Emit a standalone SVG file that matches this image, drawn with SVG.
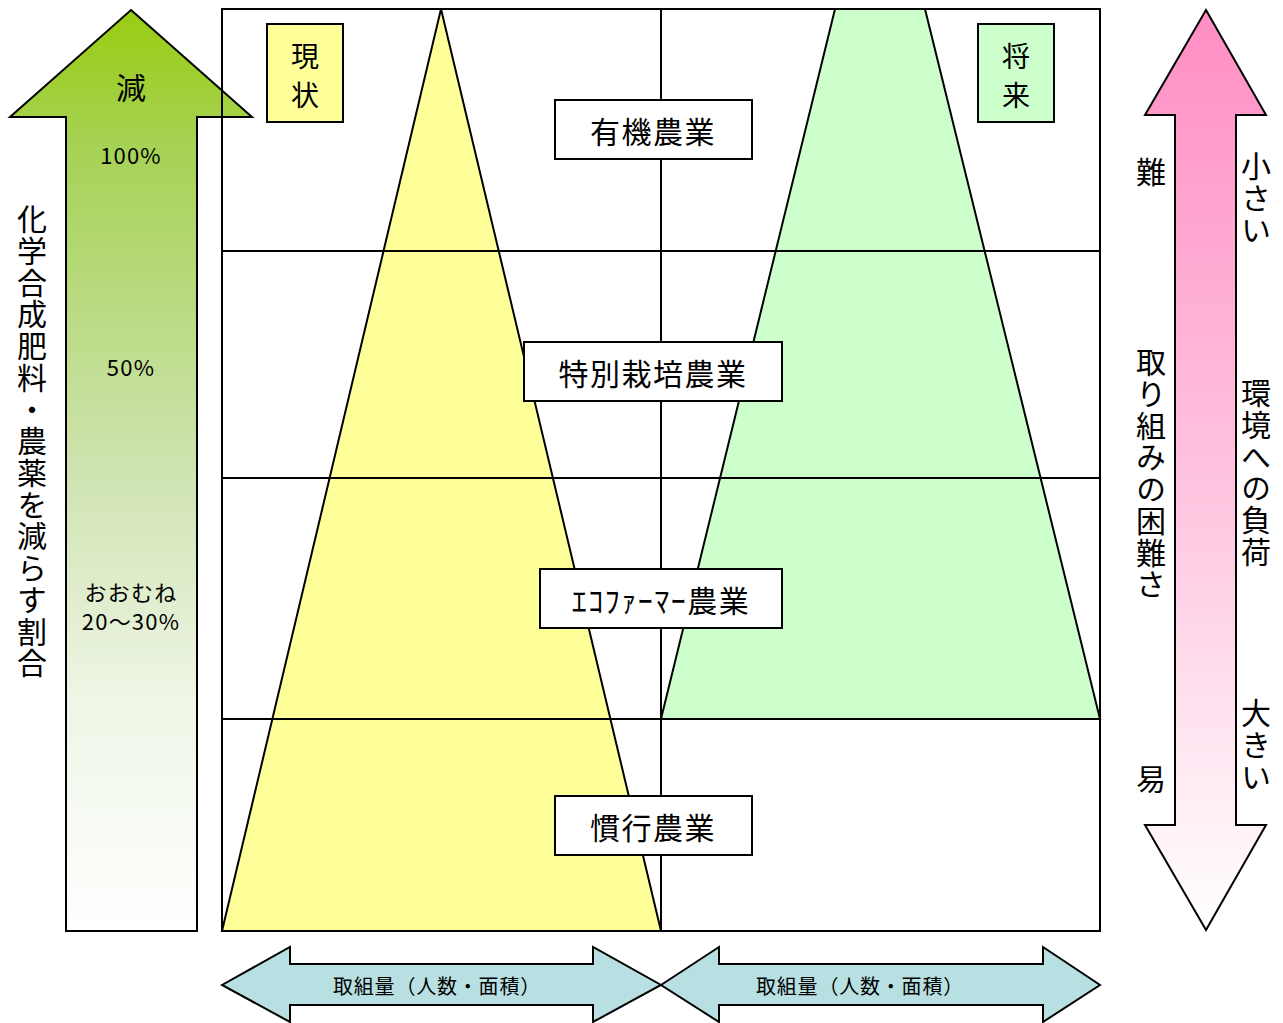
<svg xmlns="http://www.w3.org/2000/svg" width="1283" height="1023" viewBox="0 0 1283 1023">
<style>
text{font-family:"Noto Sans CJK JP","Noto Sans",sans-serif;fill:#000;}
.ln{stroke:#000;stroke-width:2;fill:none;}
.box{fill:#fff;stroke:#000;stroke-width:2;}
.lbl{font-size:30px;letter-spacing:1.5px;text-anchor:middle;dominant-baseline:central;}
.ch{font-size:30px;text-anchor:middle;dominant-baseline:central;}
.sm{font-size:28px;text-anchor:middle;dominant-baseline:central;}
.v{writing-mode:vertical-rl;font-size:30px;letter-spacing:1.7px;}
.pct{font-size:22px;letter-spacing:1.2px;text-anchor:middle;dominant-baseline:central;}
.bt{font-size:20px;letter-spacing:0.8px;text-anchor:middle;dominant-baseline:central;}
</style>
<defs>
<linearGradient id="gG" x1="0" y1="0" x2="0" y2="1">
<stop offset="0" stop-color="#99cc11"/>
<stop offset="0.15" stop-color="#a6d255"/>
<stop offset="0.5" stop-color="#cfe3b0"/>
<stop offset="0.75" stop-color="#eef6e6"/>
<stop offset="1" stop-color="#ffffff"/>
</linearGradient>
<linearGradient id="gP" x1="0" y1="0" x2="0" y2="1">
<stop offset="0" stop-color="#ff8ec4"/>
<stop offset="0.5" stop-color="#ffc2de"/>
<stop offset="1" stop-color="#ffffff"/>
</linearGradient>
</defs>

<g id="left-arrow">
<polygon points="131,10 252,117 197,117 197,931 66,931 66,117 10,117" fill="url(#gG)" stroke="#000" stroke-width="2"/>
<text x="131" y="86" class="ch">減</text>
<text x="131" y="154" class="pct">100%</text>
<text x="131" y="366" class="pct">50%</text>
<text x="131" y="591" class="pct">おおむね</text>
<text x="131" y="620" class="pct">20～30%</text>
</g>
<text id="left-label" x="32" y="204" class="v">化学合成肥料・農薬を減らす割合</text>

<g id="chart">
<polygon points="441,9 661,931 222,931" fill="#ffff99"/>
<polygon points="835,9 925,9 1100,719 661,719" fill="#ccffcc"/>
<rect x="222" y="9" width="878" height="922" class="ln"/>
<line x1="661" y1="9" x2="661" y2="931" class="ln"/>
<line x1="222" y1="251" x2="1100" y2="251" class="ln"/>
<line x1="222" y1="478" x2="1100" y2="478" class="ln"/>
<line x1="222" y1="719" x2="1100" y2="719" class="ln"/>
<polygon points="441,9 661,931 222,931" class="ln"/>
<polygon points="835,9 925,9 1100,719 661,719" class="ln"/>
</g>

<g id="genjo">
<rect x="267" y="24" width="76" height="98" fill="#ffff99" stroke="#000" stroke-width="2"/>
<text x="305" y="55" class="sm">現</text>
<text x="305" y="94" class="sm">状</text>
</g>
<g id="shorai">
<rect x="978" y="24" width="76" height="98" fill="#ccffcc" stroke="#000" stroke-width="2"/>
<text x="1016" y="55" class="sm">将</text>
<text x="1016" y="94" class="sm">来</text>
</g>

<g id="yuki"><rect x="555" y="100" width="197" height="59" class="box"/><text x="653" y="130" class="lbl">有機農業</text></g>
<g id="tokubetsu"><rect x="524" y="342" width="258" height="59" class="box"/><text x="653" y="372" class="lbl">特別栽培農業</text></g>
<g id="eco"><rect x="540" y="569" width="242" height="59" class="box"/><text x="661" y="599" class="lbl">ｴｺﾌｧｰﾏｰ農業</text></g>
<g id="kanko"><rect x="555" y="796" width="197" height="59" class="box"/><text x="653" y="826" class="lbl">慣行農業</text></g>

<g id="right-arrow">
<polygon points="1206,10 1266,115 1236,115 1236,825 1266,825 1206,930 1145,825 1175,825 1175,115 1145,115" fill="url(#gP)" stroke="#000" stroke-width="2"/>
</g>
<text x="1151" y="170" class="ch">難</text>
<text x="1151" y="347" class="v">取り組みの困難さ</text>
<text x="1151" y="777" class="ch">易</text>
<text x="1256" y="151" class="v">小さい</text>
<text x="1256" y="378" class="v">環境への負荷</text>
<text x="1256" y="698" class="v">大きい</text>

<g id="bottom-left">
<polygon points="222,985 290,947 290,964 593,964 593,947 661,985 593,1022 593,1005 290,1005 290,1022" fill="#b8e0e2" stroke="#000" stroke-width="2"/>
<text x="437" y="985" class="bt">取組量（人数・面積）</text>
</g>
<g id="bottom-right">
<polygon points="661,985 719,947 719,964 1043,964 1043,947 1100,985 1043,1022 1043,1005 719,1005 719,1022" fill="#b8e0e2" stroke="#000" stroke-width="2"/>
<text x="860" y="985" class="bt">取組量（人数・面積）</text>
</g>
</svg>
